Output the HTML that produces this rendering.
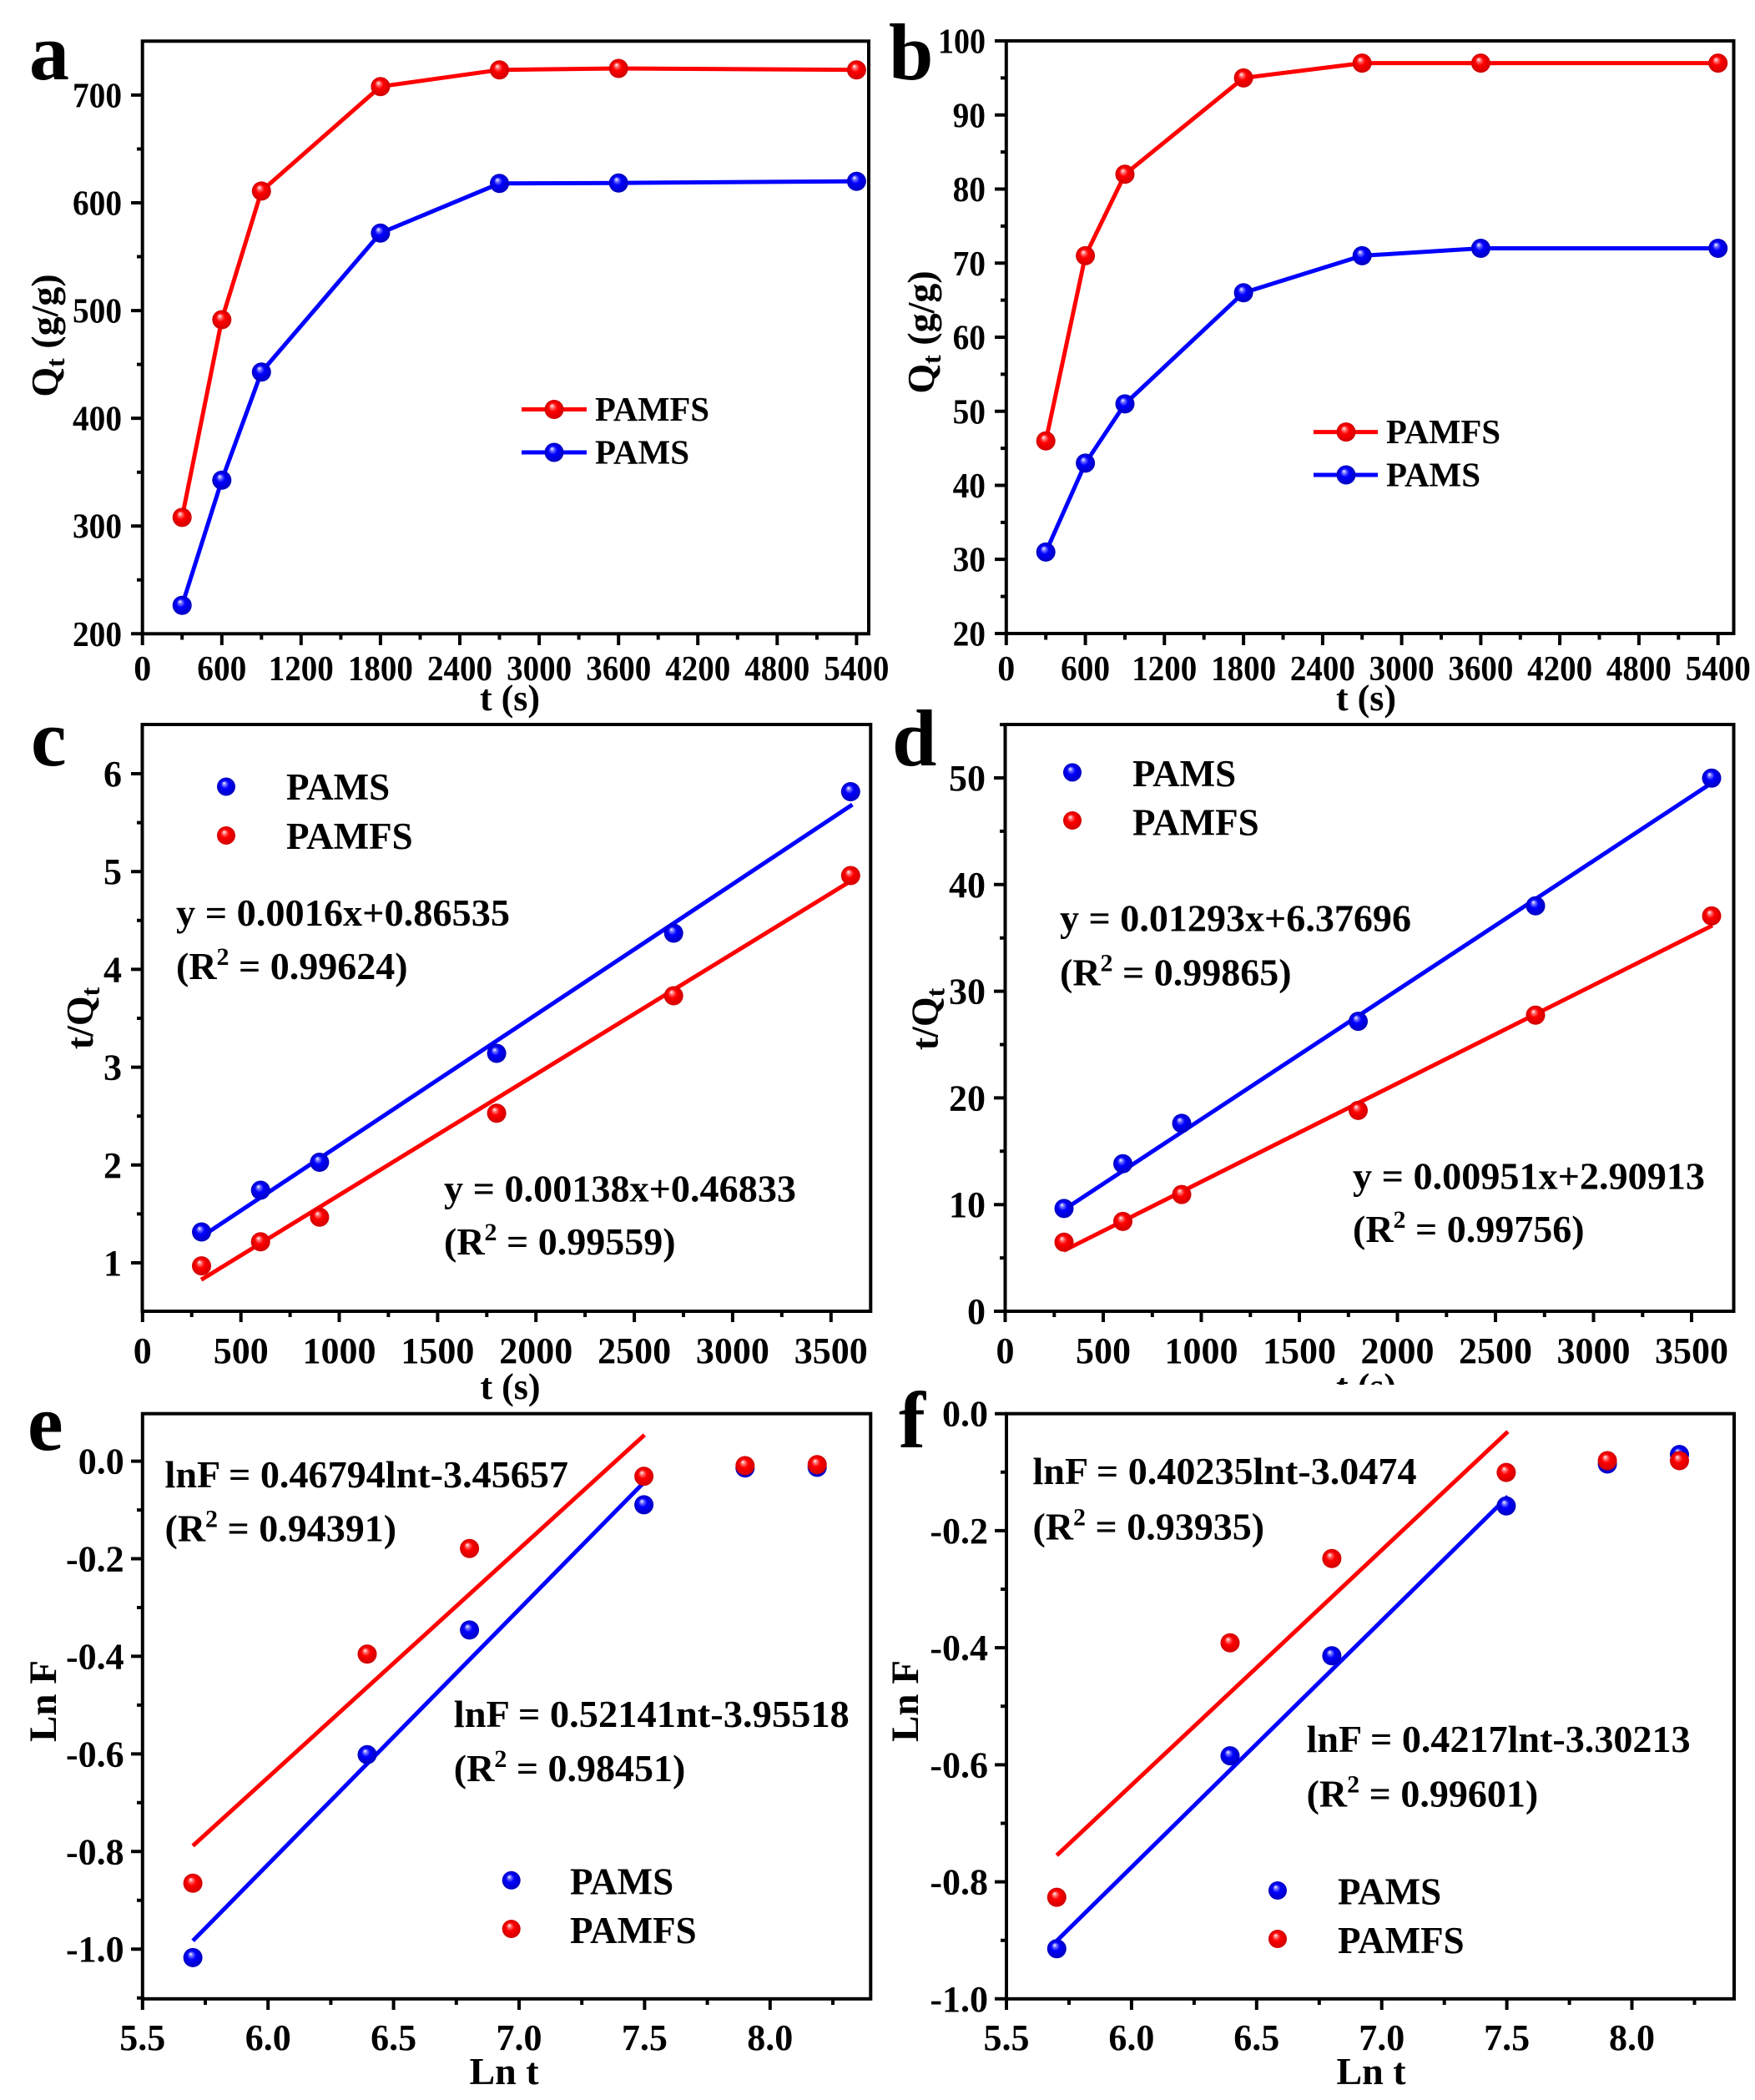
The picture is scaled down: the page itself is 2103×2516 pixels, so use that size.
<!DOCTYPE html>
<html><head><meta charset="utf-8"><style>
html,body{margin:0;padding:0;background:#fff;}
svg{display:block;}
text{font-family:"Liberation Serif","Times New Roman",serif;font-weight:bold;fill:#000;}
</style></head><body>
<svg xmlns="http://www.w3.org/2000/svg" width="2103" height="2516" viewBox="0 0 2103 2516">
<defs>
<radialGradient id="R" cx="0.5" cy="0.5" r="0.5" fx="0.38" fy="0.3">
<stop offset="0" stop-color="#ffffff"/><stop offset="0.2" stop-color="#ff7070"/><stop offset="0.45" stop-color="#ff0000"/><stop offset="1" stop-color="#d00000"/></radialGradient>
<radialGradient id="B" cx="0.5" cy="0.5" r="0.5" fx="0.38" fy="0.3">
<stop offset="0" stop-color="#ffffff"/><stop offset="0.2" stop-color="#7070ff"/><stop offset="0.45" stop-color="#0000ff"/><stop offset="1" stop-color="#0000c0"/></radialGradient>
</defs>
<rect width="2103" height="2516" fill="#fff"/>

<!-- ================= PANEL A ================= -->
<text x="35" y="95" font-size="96">a</text>
<g fill="none" stroke="#000" stroke-width="4">
<rect x="170.7" y="49.3" width="870.3" height="710"/>
<path d="M157 759.3H170.7M157 630.2H170.7M157 501.1H170.7M157 372.1H170.7M157 243H170.7M157 113.9H170.7
M164 694.8H170.7M164 565.7H170.7M164 436.6H170.7M164 307.5H170.7M164 178.5H170.7
M170.7 759.3V773M265.8 759.3V773M360.8 759.3V773M455.9 759.3V773M551 759.3V773M646.1 759.3V773M741.2 759.3V773M836.2 759.3V773M931.3 759.3V773M1026.4 759.3V773
M218.2 759.3V766.5M313.3 759.3V766.5M408.4 759.3V766.5M503.5 759.3V766.5M598.5 759.3V766.5M693.6 759.3V766.5M788.7 759.3V766.5M883.8 759.3V766.5M978.9 759.3V766.5"/>
</g>
<g font-size="42" text-anchor="end">
<text x="146" y="773.8" textLength="59" lengthAdjust="spacingAndGlyphs">200</text>
<text x="146" y="644.7" textLength="59" lengthAdjust="spacingAndGlyphs">300</text>
<text x="146" y="515.6" textLength="59" lengthAdjust="spacingAndGlyphs">400</text>
<text x="146" y="386.6" textLength="59" lengthAdjust="spacingAndGlyphs">500</text>
<text x="146" y="257.5" textLength="59" lengthAdjust="spacingAndGlyphs">600</text>
<text x="146" y="128.4" textLength="59" lengthAdjust="spacingAndGlyphs">700</text>
</g>
<g font-size="42" text-anchor="middle">
<text x="170.7" y="815">0</text>
<text x="265.8" y="815" textLength="59" lengthAdjust="spacingAndGlyphs">600</text>
<text x="360.8" y="815" textLength="78" lengthAdjust="spacingAndGlyphs">1200</text>
<text x="455.9" y="815" textLength="78" lengthAdjust="spacingAndGlyphs">1800</text>
<text x="551" y="815" textLength="78" lengthAdjust="spacingAndGlyphs">2400</text>
<text x="646.1" y="815" textLength="78" lengthAdjust="spacingAndGlyphs">3000</text>
<text x="741.2" y="815" textLength="78" lengthAdjust="spacingAndGlyphs">3600</text>
<text x="836.2" y="815" textLength="78" lengthAdjust="spacingAndGlyphs">4200</text>
<text x="931.3" y="815" textLength="78" lengthAdjust="spacingAndGlyphs">4800</text>
<text x="1026.4" y="815" textLength="78" lengthAdjust="spacingAndGlyphs">5400</text>
</g>
<text x="611" y="851" font-size="44" text-anchor="middle">t (s)</text>
<text transform="translate(69,402) rotate(-90)" font-size="46" text-anchor="middle">Q<tspan font-size="32" dy="8">t</tspan><tspan dy="-8"> (g/g)</tspan></text>
<polyline fill="none" stroke="#ff0000" stroke-width="5" points="218.2,619.9 265.8,383 313.3,228.9 455.9,103.7 598.5,83.7 741.2,82 1026.4,83.7"/>
<polyline fill="none" stroke="#0000ff" stroke-width="5" points="218.2,725.2 265.8,575.3 313.3,445.7 455.9,279.2 598.5,219.8 741.2,219.2 1026.4,217.2"/>
<g fill="url(#R)">
<circle cx="218.2" cy="619.9" r="11.5"/><circle cx="265.8" cy="383" r="11.5"/><circle cx="313.3" cy="228.9" r="11.5"/><circle cx="455.9" cy="103.7" r="11.5"/><circle cx="598.5" cy="83.7" r="11.5"/><circle cx="741.2" cy="82" r="11.5"/><circle cx="1026.4" cy="83.7" r="11.5"/>
</g>
<g fill="url(#B)">
<circle cx="218.2" cy="725.2" r="11.5"/><circle cx="265.8" cy="575.3" r="11.5"/><circle cx="313.3" cy="445.7" r="11.5"/><circle cx="455.9" cy="279.2" r="11.5"/><circle cx="598.5" cy="219.8" r="11.5"/><circle cx="741.2" cy="219.2" r="11.5"/><circle cx="1026.4" cy="217.2" r="11.5"/>
</g>
<line x1="625" y1="490.5" x2="703" y2="490.5" stroke="#ff0000" stroke-width="5"/>
<circle cx="664" cy="490.5" r="11.5" fill="url(#R)"/>
<line x1="625" y1="542" x2="703" y2="542" stroke="#0000ff" stroke-width="5"/>
<circle cx="664" cy="542" r="11.5" fill="url(#B)"/>
<text x="713" y="504" font-size="41" textLength="137" lengthAdjust="spacingAndGlyphs">PAMFS</text>
<text x="713" y="555.5" font-size="41" textLength="113" lengthAdjust="spacingAndGlyphs">PAMS</text>

<!-- ================= PANEL B ================= -->
<text x="1065" y="95" font-size="96">b</text>
<g fill="none" stroke="#000" stroke-width="4">
<rect x="1205.8" y="49" width="871.7" height="710"/>
<path d="M1192 759H1205.8M1192 670.1H1205.8M1192 581.5H1205.8M1192 492.8H1205.8M1192 404H1205.8M1192 315.3H1205.8M1192 226.5H1205.8M1192 137.8H1205.8M1192 49H1205.8
M1199 714.6H1205.8M1199 625.9H1205.8M1199 537.1H1205.8M1199 448.4H1205.8M1199 359.6H1205.8M1199 270.9H1205.8M1199 182.1H1205.8M1199 93.4H1205.8
M1205.8 759V773M1300.6 759V773M1395.3 759V773M1490.1 759V773M1584.9 759V773M1679.6 759V773M1774.4 759V773M1869.1 759V773M1963.9 759V773M2058.7 759V773
M1253.2 759V766.5M1348 759V766.5M1442.7 759V766.5M1537.5 759V766.5M1632.2 759V766.5M1727 759V766.5M1821.8 759V766.5M1916.5 759V766.5M2011.3 759V766.5"/>
</g>
<g font-size="42" text-anchor="end">
<text x="1181" y="773.5" textLength="39.4" lengthAdjust="spacingAndGlyphs">20</text>
<text x="1181" y="684.6" textLength="39.4" lengthAdjust="spacingAndGlyphs">30</text>
<text x="1181" y="596" textLength="39.4" lengthAdjust="spacingAndGlyphs">40</text>
<text x="1181" y="507.3" textLength="39.4" lengthAdjust="spacingAndGlyphs">50</text>
<text x="1181" y="418.5" textLength="39.4" lengthAdjust="spacingAndGlyphs">60</text>
<text x="1181" y="329.8" textLength="39.4" lengthAdjust="spacingAndGlyphs">70</text>
<text x="1181" y="241" textLength="39.4" lengthAdjust="spacingAndGlyphs">80</text>
<text x="1181" y="152.3" textLength="39.4" lengthAdjust="spacingAndGlyphs">90</text>
<text x="1181" y="63.5" textLength="57" lengthAdjust="spacingAndGlyphs">100</text>
</g>
<g font-size="42" text-anchor="middle">
<text x="1205.8" y="815">0</text>
<text x="1300.6" y="815" textLength="59" lengthAdjust="spacingAndGlyphs">600</text>
<text x="1395.3" y="815" textLength="78" lengthAdjust="spacingAndGlyphs">1200</text>
<text x="1490.1" y="815" textLength="78" lengthAdjust="spacingAndGlyphs">1800</text>
<text x="1584.9" y="815" textLength="78" lengthAdjust="spacingAndGlyphs">2400</text>
<text x="1679.6" y="815" textLength="78" lengthAdjust="spacingAndGlyphs">3000</text>
<text x="1774.4" y="815" textLength="78" lengthAdjust="spacingAndGlyphs">3600</text>
<text x="1869.1" y="815" textLength="78" lengthAdjust="spacingAndGlyphs">4200</text>
<text x="1963.9" y="815" textLength="78" lengthAdjust="spacingAndGlyphs">4800</text>
<text x="2058.7" y="815" textLength="78" lengthAdjust="spacingAndGlyphs">5400</text>
</g>
<text x="1637" y="851" font-size="44" text-anchor="middle">t (s)</text>
<text transform="translate(1119,398) rotate(-90)" font-size="46" text-anchor="middle">Q<tspan font-size="32" dy="8">t</tspan><tspan dy="-8"> (g/g)</tspan></text>
<polyline fill="none" stroke="#ff0000" stroke-width="5" points="1253.2,528.3 1300.6,306.4 1348,208.8 1490.1,93.4 1632.2,75.6 1774.4,75.6 2058.7,75.6"/>
<polyline fill="none" stroke="#0000ff" stroke-width="5" points="1253.2,661.4 1300.6,554.9 1348,483.9 1490.1,350.7 1632.2,306.4 1774.4,297.5 2058.7,297.5"/>
<g fill="url(#R)">
<circle cx="1253.2" cy="528.3" r="11.5"/><circle cx="1300.6" cy="306.4" r="11.5"/><circle cx="1348" cy="208.8" r="11.5"/><circle cx="1490.1" cy="93.4" r="11.5"/><circle cx="1632.2" cy="75.6" r="11.5"/><circle cx="1774.4" cy="75.6" r="11.5"/><circle cx="2058.7" cy="75.6" r="11.5"/>
</g>
<g fill="url(#B)">
<circle cx="1253.2" cy="661.4" r="11.5"/><circle cx="1300.6" cy="554.9" r="11.5"/><circle cx="1348" cy="483.9" r="11.5"/><circle cx="1490.1" cy="350.7" r="11.5"/><circle cx="1632.2" cy="306.4" r="11.5"/><circle cx="1774.4" cy="297.5" r="11.5"/><circle cx="2058.7" cy="297.5" r="11.5"/>
</g>
<line x1="1574" y1="517.6" x2="1651" y2="517.6" stroke="#ff0000" stroke-width="5"/>
<circle cx="1613" cy="517.6" r="11.5" fill="url(#R)"/>
<line x1="1574" y1="569" x2="1651" y2="569" stroke="#0000ff" stroke-width="5"/>
<circle cx="1613" cy="569" r="11.5" fill="url(#B)"/>
<text x="1661" y="531" font-size="41" textLength="137" lengthAdjust="spacingAndGlyphs">PAMFS</text>
<text x="1661" y="582.5" font-size="41" textLength="113" lengthAdjust="spacingAndGlyphs">PAMS</text>

<!-- ================= PANEL C ================= -->
<text x="37" y="917" font-size="96">c</text>
<g fill="none" stroke="#000" stroke-width="4">
<rect x="170.5" y="868" width="872.8" height="703"/>
<path d="M157 1513H170.5M157 1395.8H170.5M157 1278.6H170.5M157 1161.4H170.5M157 1044.2H170.5M157 927H170.5
M164 1454.4H170.5M164 1337.2H170.5M164 1220H170.5M164 1102.8H170.5M164 985.6H170.5
M170.8 1571V1584M288.7 1571V1584M406.5 1571V1584M524.4 1571V1584M642.2 1571V1584M760.1 1571V1584M877.9 1571V1584M995.8 1571V1584
M229.7 1571V1578M347.6 1571V1578M465.4 1571V1578M583.3 1571V1578M701.1 1571V1578M819 1571V1578M936.8 1571V1578"/>
</g>
<g font-size="44" text-anchor="end">
<text x="146" y="1528">1</text><text x="146" y="1410.8">2</text><text x="146" y="1293.6">3</text><text x="146" y="1176.4">4</text><text x="146" y="1059.2">5</text><text x="146" y="942">6</text>
</g>
<g font-size="44" text-anchor="middle">
<text x="170.8" y="1633">0</text><text x="288.7" y="1633">500</text><text x="406.5" y="1633">1000</text><text x="524.4" y="1633">1500</text><text x="642.2" y="1633">2000</text><text x="760.1" y="1633">2500</text><text x="877.9" y="1633">3000</text><text x="995.8" y="1633">3500</text>
</g>
<text x="611.5" y="1676" font-size="44" text-anchor="middle">t (s)</text>
<text transform="translate(111,1220) rotate(-90)" font-size="46" text-anchor="middle">t/Q<tspan font-size="32" dy="8">t</tspan></text>
<line x1="244.5" y1="1479.7" x2="1021.4" y2="964" stroke="#0000ff" stroke-width="5"/>
<line x1="241.1" y1="1533.3" x2="1021.4" y2="1054.4" stroke="#ff0000" stroke-width="5"/>
<g fill="url(#B)">
<circle cx="241.5" cy="1476" r="11.5"/><circle cx="312.2" cy="1426" r="11.5"/><circle cx="382.9" cy="1392.5" r="11.5"/><circle cx="595.1" cy="1262" r="11.5"/><circle cx="807.2" cy="1118" r="11.5"/><circle cx="1019.3" cy="948.5" r="11.5"/>
<circle cx="271" cy="942.5" r="11"/>
</g>
<g fill="url(#R)">
<circle cx="241.5" cy="1516.6" r="11.5"/><circle cx="312.2" cy="1487.8" r="11.5"/><circle cx="382.9" cy="1458.3" r="11.5"/><circle cx="595.1" cy="1333.7" r="11.5"/><circle cx="807.2" cy="1193" r="11.5"/><circle cx="1019.3" cy="1049" r="11.5"/>
<circle cx="271" cy="1001" r="11"/>
</g>
<text x="343" y="958" font-size="45">PAMS</text>
<text x="343" y="1017" font-size="45">PAMFS</text>
<text x="211" y="1109" font-size="46" textLength="400" lengthAdjust="spacingAndGlyphs">y = 0.0016x+0.86535</text>
<text x="211" y="1173" font-size="46">(R<tspan font-size="30" dy="-17">2</tspan><tspan dy="17"> = 0.99624)</tspan></text>
<text x="532" y="1439.5" font-size="46" textLength="422" lengthAdjust="spacingAndGlyphs">y = 0.00138x+0.46833</text>
<text x="532" y="1503" font-size="46">(R<tspan font-size="30" dy="-17">2</tspan><tspan dy="17"> = 0.99559)</tspan></text>

<!-- ================= PANEL D ================= -->
<text x="1069" y="917" font-size="96">d</text>
<g fill="none" stroke="#000" stroke-width="4">
<rect x="1204.5" y="868" width="873" height="703"/>
<path d="M1191 1571H1204.5M1191 1443.2H1204.5M1191 1315.4H1204.5M1191 1187.6H1204.5M1191 1059.8H1204.5M1191 932H1204.5
M1198 1507.1H1204.5M1198 1379.3H1204.5M1198 1251.5H1204.5M1198 1123.7H1204.5M1198 995.9H1204.5M1198 868.1H1204.5
M1204.5 1571V1584M1322 1571V1584M1439.5 1571V1584M1557 1571V1584M1674.5 1571V1584M1792 1571V1584M1909.5 1571V1584M2027 1571V1584
M1263.3 1571V1578M1380.8 1571V1578M1498.3 1571V1578M1615.8 1571V1578M1733.3 1571V1578M1850.8 1571V1578M1968.3 1571V1578"/>
</g>
<g font-size="44" text-anchor="end">
<text x="1181" y="1586">0</text><text x="1181" y="1458.2">10</text><text x="1181" y="1330.4">20</text><text x="1181" y="1202.6">30</text><text x="1181" y="1074.8">40</text><text x="1181" y="947">50</text>
</g>
<g font-size="44" text-anchor="middle">
<text x="1204.5" y="1633">0</text><text x="1322" y="1633">500</text><text x="1439.5" y="1633">1000</text><text x="1557" y="1633">1500</text><text x="1674.5" y="1633">2000</text><text x="1792" y="1633">2500</text><text x="1909.5" y="1633">3000</text><text x="2027" y="1633">3500</text>
</g>
<text x="1637" y="1676" font-size="44" text-anchor="middle">t (s)</text>
<rect x="1560" y="1659" width="160" height="32" fill="#fff"/>
<text transform="translate(1123.5,1221) rotate(-90)" font-size="46" text-anchor="middle">t/Q<tspan font-size="32" dy="8">t</tspan></text>
<line x1="1275" y1="1449.3" x2="2052" y2="937.5" stroke="#0000ff" stroke-width="5"/>
<line x1="1275" y1="1498.3" x2="2052" y2="1108.8" stroke="#ff0000" stroke-width="5"/>
<g fill="url(#B)">
<circle cx="1275" cy="1447.9" r="11.5"/><circle cx="1345.5" cy="1394.2" r="11.5"/><circle cx="1416" cy="1345.9" r="11.5"/><circle cx="1627.5" cy="1223.6" r="11.5"/><circle cx="1840" cy="1085.3" r="11.5"/><circle cx="2051" cy="932.2" r="11.5"/>
<circle cx="1285" cy="925.4" r="11"/>
</g>
<g fill="url(#R)">
<circle cx="1275" cy="1488.2" r="11.5"/><circle cx="1345.5" cy="1463.4" r="11.5"/><circle cx="1416" cy="1431.1" r="11.5"/><circle cx="1627.5" cy="1330.4" r="11.5"/><circle cx="1840" cy="1216.2" r="11.5"/><circle cx="2051" cy="1097.4" r="11.5"/>
<circle cx="1285" cy="983" r="11"/>
</g>
<text x="1357" y="942" font-size="45">PAMS</text>
<text x="1357" y="1000.5" font-size="45">PAMFS</text>
<text x="1270" y="1115.5" font-size="46" textLength="421" lengthAdjust="spacingAndGlyphs">y = 0.01293x+6.37696</text>
<text x="1270" y="1180.5" font-size="46">(R<tspan font-size="30" dy="-17">2</tspan><tspan dy="17"> = 0.99865)</tspan></text>
<text x="1621" y="1424.4" font-size="46" textLength="422" lengthAdjust="spacingAndGlyphs">y = 0.00951x+2.90913</text>
<text x="1621" y="1488.2" font-size="46">(R<tspan font-size="30" dy="-17">2</tspan><tspan dy="17"> = 0.99756)</tspan></text>

<!-- ================= PANEL E ================= -->
<text x="33" y="1737" font-size="96">e</text>
<g fill="none" stroke="#000" stroke-width="4">
<rect x="170.8" y="1693.7" width="872.5" height="701.1"/>
<path d="M157 1750.6H170.8M157 1867.5H170.8M157 1984.4H170.8M157 2101.4H170.8M157 2218.3H170.8M157 2335.2H170.8
M164 1809.1H170.8M164 1926H170.8M164 2042.9H170.8M164 2159.8H170.8M164 2276.7H170.8M164 2393.7H170.8
M170.8 2394.8V2408M321.2 2394.8V2408M471.6 2394.8V2408M622 2394.8V2408M772.4 2394.8V2408M922.8 2394.8V2408
M246 2394.8V2402M396.4 2394.8V2402M546.8 2394.8V2402M697.2 2394.8V2402M847.6 2394.8V2402M998 2394.8V2402"/>
</g>
<g font-size="44" text-anchor="end">
<text x="148.7" y="1765.6">0.0</text><text x="148.7" y="1882.5">-0.2</text><text x="148.7" y="1999.4">-0.4</text><text x="148.7" y="2116.4">-0.6</text><text x="148.7" y="2233.3">-0.8</text><text x="148.7" y="2350.2">-1.0</text>
</g>
<g font-size="44" text-anchor="middle">
<text x="170.8" y="2456">5.5</text><text x="321.2" y="2456">6.0</text><text x="471.6" y="2456">6.5</text><text x="622" y="2456">7.0</text><text x="772.4" y="2456">7.5</text><text x="922.8" y="2456">8.0</text>
</g>
<text x="604" y="2497" font-size="46" text-anchor="middle">Ln t</text>
<text transform="translate(67,2038) rotate(-90)" font-size="47" text-anchor="middle">Ln F</text>
<line x1="231.1" y1="2211.5" x2="772.3" y2="1719.2" stroke="#ff0000" stroke-width="5"/>
<line x1="231.1" y1="2325.3" x2="772.3" y2="1775.4" stroke="#0000ff" stroke-width="5"/>
<g fill="url(#B)">
<circle cx="231.1" cy="2345.4" r="11.5"/><circle cx="440" cy="2102.3" r="11.5"/><circle cx="562.6" cy="1952.9" r="11.5"/><circle cx="771.6" cy="1802.9" r="11.5"/><circle cx="892.8" cy="1758.7" r="11.5"/><circle cx="979.2" cy="1758" r="11.5"/>
<circle cx="612.7" cy="2252.8" r="11"/>
</g>
<g fill="url(#R)">
<circle cx="231.1" cy="2256.3" r="11.5"/><circle cx="440" cy="1981.7" r="11.5"/><circle cx="562.6" cy="1855.2" r="11.5"/><circle cx="771.6" cy="1768.7" r="11.5"/><circle cx="892.8" cy="1756" r="11.5"/><circle cx="979.2" cy="1754.7" r="11.5"/>
<circle cx="612.7" cy="2311" r="11"/>
</g>
<text x="683" y="2269.5" font-size="45">PAMS</text>
<text x="683" y="2328" font-size="45">PAMFS</text>
<text x="197.5" y="1782" font-size="46" textLength="483.5" lengthAdjust="spacingAndGlyphs">lnF = 0.46794lnt-3.45657</text>
<text x="197.5" y="1846.4" font-size="46">(R<tspan font-size="30" dy="-17">2</tspan><tspan dy="17"> = 0.94391)</tspan></text>
<text x="543.8" y="2068.8" font-size="46" textLength="474" lengthAdjust="spacingAndGlyphs">lnF = 0.52141nt-3.95518</text>
<text x="543.8" y="2133.8" font-size="46">(R<tspan font-size="30" dy="-17">2</tspan><tspan dy="17"> = 0.98451)</tspan></text>

<!-- ================= PANEL F ================= -->
<text x="1077" y="1734" font-size="96">f</text>
<g fill="none" stroke="#000" stroke-width="4">
<rect x="1206" y="1693.7" width="872" height="701.1"/>
<path d="M1192 1693.7H1206M1192 1833.9H1206M1192 1974.1H1206M1192 2114.4H1206M1192 2254.6H1206M1192 2394.8H1206
M1199 1763.8H1206M1199 1904H1206M1199 2044.3H1206M1199 2184.5H1206M1199 2324.7H1206
M1206 2394.8V2408M1355.9 2394.8V2408M1505.8 2394.8V2408M1655.7 2394.8V2408M1805.6 2394.8V2408M1955.5 2394.8V2408
M1281 2394.8V2402M1430.9 2394.8V2402M1580.8 2394.8V2402M1730.7 2394.8V2402M1880.6 2394.8V2402M2030.5 2394.8V2402"/>
</g>
<g font-size="44" text-anchor="end">
<text x="1184" y="1708.7">0.0</text><text x="1184" y="1848.9">-0.2</text><text x="1184" y="1989.1">-0.4</text><text x="1184" y="2129.4">-0.6</text><text x="1184" y="2269.6">-0.8</text><text x="1184" y="2409.8">-1.0</text>
</g>
<g font-size="44" text-anchor="middle">
<text x="1206" y="2456">5.5</text><text x="1355.9" y="2456">6.0</text><text x="1505.8" y="2456">6.5</text><text x="1655.7" y="2456">7.0</text><text x="1805.6" y="2456">7.5</text><text x="1955.5" y="2456">8.0</text>
</g>
<text x="1643" y="2497" font-size="46" text-anchor="middle">Ln t</text>
<text transform="translate(1100,2038) rotate(-90)" font-size="47" text-anchor="middle">Ln F</text>
<line x1="1266.3" y1="2222.9" x2="1806.9" y2="1715.2" stroke="#ff0000" stroke-width="5"/>
<line x1="1266.3" y1="2325.3" x2="1806.9" y2="1792.9" stroke="#0000ff" stroke-width="5"/>
<g fill="url(#B)">
<circle cx="1266.3" cy="2334.7" r="11.5"/><circle cx="1474" cy="2103.6" r="11.5"/><circle cx="1595.9" cy="1983.8" r="11.5"/><circle cx="1804.9" cy="1804.2" r="11.5"/><circle cx="1926.1" cy="1754" r="11.5"/><circle cx="2012.5" cy="1742.6" r="11.5"/>
<circle cx="1531" cy="2265" r="11"/>
</g>
<g fill="url(#R)">
<circle cx="1266.3" cy="2273.1" r="11.5"/><circle cx="1474" cy="1968.3" r="11.5"/><circle cx="1595.9" cy="1867.2" r="11.5"/><circle cx="1804.9" cy="1764.1" r="11.5"/><circle cx="1926.1" cy="1750" r="11.5"/><circle cx="2012.5" cy="1750" r="11.5"/>
<circle cx="1531" cy="2323" r="11"/>
</g>
<text x="1603" y="2281.5" font-size="45">PAMS</text>
<text x="1603" y="2340" font-size="45">PAMFS</text>
<text x="1237.5" y="1778" font-size="46" textLength="460" lengthAdjust="spacingAndGlyphs">lnF = 0.40235lnt-3.0474</text>
<text x="1237.5" y="1844.4" font-size="46">(R<tspan font-size="30" dy="-17">2</tspan><tspan dy="17"> = 0.93935)</tspan></text>
<text x="1565.6" y="2099" font-size="46" textLength="460" lengthAdjust="spacingAndGlyphs">lnF = 0.4217lnt-3.30213</text>
<text x="1565.6" y="2164.6" font-size="46">(R<tspan font-size="30" dy="-17">2</tspan><tspan dy="17"> = 0.99601)</tspan></text>
</svg>
</body></html>
